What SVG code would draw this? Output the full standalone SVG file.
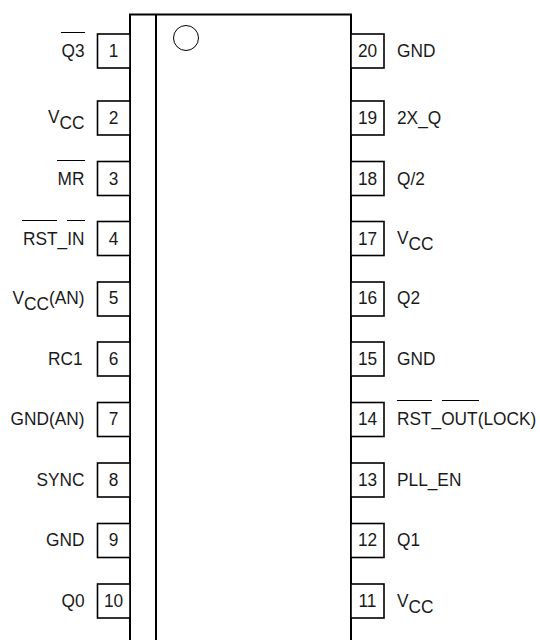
<svg xmlns="http://www.w3.org/2000/svg" width="540" height="640" viewBox="0 0 540 640">
<style>
text{font-family:"Liberation Sans",Arial,sans-serif;font-size:19px;fill:#1a1a1a}
.e{text-anchor:end}.m{text-anchor:middle}
.body{fill:none;stroke:#000;stroke-width:2}
.pin{fill:#fff;stroke:#000;stroke-width:1.6}
.bar{stroke:#000;stroke-width:1;fill:none}
</style>
<rect width="540" height="640" fill="#fff"/>
<g id="package">
<path class="body" d="M130 640V14.5H351V640M156 14.5V640"/>
<circle cx="186" cy="38" r="12.5" fill="#fff" stroke="#000" stroke-width="1"/>
</g>
<g id="pin1"><rect class="pin" x="97.5" y="34" width="32.500" height="34"/><text class="m" transform="matrix(.91 0 0 1 113.500 57)">1</text><text class="e" transform="matrix(.91 0 0 1 84.500 57)">Q3</text><path class="bar" d="M61 32.500H85"/></g>
<g id="pin2"><rect class="pin" x="97.5" y="101" width="32.500" height="34"/><text class="m" transform="matrix(.91 0 0 1 113.500 124)">2</text><text class="e" transform="matrix(.91 0 0 1 84.500 129)"><tspan dy="-6">V</tspan><tspan dy="6">CC</tspan></text></g>
<g id="pin3"><rect class="pin" x="97.5" y="161.500" width="32.500" height="34"/><text class="m" transform="matrix(.91 0 0 1 113.500 184.500)">3</text><text class="e" transform="matrix(.91 0 0 1 84.500 185)">MR</text><path class="bar" d="M57 160.500H85"/></g>
<g id="pin4"><rect class="pin" x="97.5" y="221.500" width="32.500" height="34"/><text class="m" transform="matrix(.91 0 0 1 113.500 244.500)">4</text><text class="e" transform="matrix(.91 0 0 1 84.500 245)">RST_IN</text><path class="bar" d="M22 220.500H57M67 220.500H85"/></g>
<g id="pin5"><rect class="pin" x="97.5" y="282" width="32.500" height="34"/><text class="m" transform="matrix(.91 0 0 1 113.500 304)">5</text><text class="e" transform="matrix(.91 0 0 1 84.500 310)"><tspan dy="-6">V</tspan><tspan dy="6">CC</tspan><tspan dy="-6">(AN)</tspan></text></g>
<g id="pin6"><rect class="pin" x="97.5" y="342" width="32.500" height="34"/><text class="m" transform="matrix(.91 0 0 1 113.500 365)">6</text><text class="e" transform="matrix(.91 0 0 1 82.500 365)">RC1</text></g>
<g id="pin7"><rect class="pin" x="97.5" y="402.500" width="32.500" height="34"/><text class="m" transform="matrix(.91 0 0 1 113.500 425)">7</text><text class="e" transform="matrix(.91 0 0 1 84.500 425)">GND(AN)</text></g>
<g id="pin8"><rect class="pin" x="97.5" y="463" width="32.500" height="34"/><text class="m" transform="matrix(.91 0 0 1 113.500 486)">8</text><text class="e" transform="matrix(.91 0 0 1 84.500 486)">SYNC</text></g>
<g id="pin9"><rect class="pin" x="97.5" y="523.500" width="32.500" height="34"/><text class="m" transform="matrix(.91 0 0 1 113.500 546)">9</text><text class="e" transform="matrix(.91 0 0 1 84.500 546)">GND</text></g>
<g id="pin10"><rect class="pin" x="97.5" y="584" width="32.500" height="34"/><text class="m" transform="matrix(.91 0 0 1 113.500 607)">10</text><text class="e" transform="matrix(.91 0 0 1 84.500 607)">Q0</text></g>
<g id="pin20"><rect class="pin" x="351" y="34" width="33" height="34"/><text class="m" transform="matrix(.91 0 0 1 367.500 57)">20</text><text transform="matrix(.91 0 0 1 397 57)">GND</text></g>
<g id="pin19"><rect class="pin" x="351" y="101" width="33" height="34"/><text class="m" transform="matrix(.91 0 0 1 367.500 124)">19</text><text transform="matrix(.91 0 0 1 397 124)">2X_Q</text></g>
<g id="pin18"><rect class="pin" x="351" y="161.500" width="33" height="34"/><text class="m" transform="matrix(.91 0 0 1 367.500 184.500)">18</text><text transform="matrix(.91 0 0 1 397 185)">Q/2</text></g>
<g id="pin17"><rect class="pin" x="351" y="221.500" width="33" height="34"/><text class="m" transform="matrix(.91 0 0 1 367.500 244.500)">17</text><text transform="matrix(.91 0 0 1 397 250)"><tspan dy="-6">V</tspan><tspan dy="6">CC</tspan></text></g>
<g id="pin16"><rect class="pin" x="351" y="282" width="33" height="34"/><text class="m" transform="matrix(.91 0 0 1 367.500 304)">16</text><text transform="matrix(.91 0 0 1 397 304)">Q2</text></g>
<g id="pin15"><rect class="pin" x="351" y="342" width="33" height="34"/><text class="m" transform="matrix(.91 0 0 1 367.500 365)">15</text><text transform="matrix(.91 0 0 1 397 365)">GND</text></g>
<g id="pin14"><rect class="pin" x="351" y="402.500" width="33" height="34"/><text class="m" transform="matrix(.91 0 0 1 367.500 425)">14</text><text transform="matrix(.91 0 0 1 397 425)">RST_OUT(LOCK)</text><path class="bar" d="M397 400.500H432M442 400.500H479"/></g>
<g id="pin13"><rect class="pin" x="351" y="463" width="33" height="34"/><text class="m" transform="matrix(.91 0 0 1 367.500 486)">13</text><text transform="matrix(.91 0 0 1 397 486)">PLL_EN</text></g>
<g id="pin12"><rect class="pin" x="351" y="523.500" width="33" height="34"/><text class="m" transform="matrix(.91 0 0 1 367.500 546)">12</text><text transform="matrix(.91 0 0 1 397 546)">Q1</text></g>
<g id="pin11"><rect class="pin" x="351" y="584" width="33" height="34"/><text class="m" transform="matrix(.91 0 0 1 367.500 607)">11</text><text transform="matrix(.91 0 0 1 397 613)"><tspan dy="-6">V</tspan><tspan dy="6">CC</tspan></text></g>
</svg>
